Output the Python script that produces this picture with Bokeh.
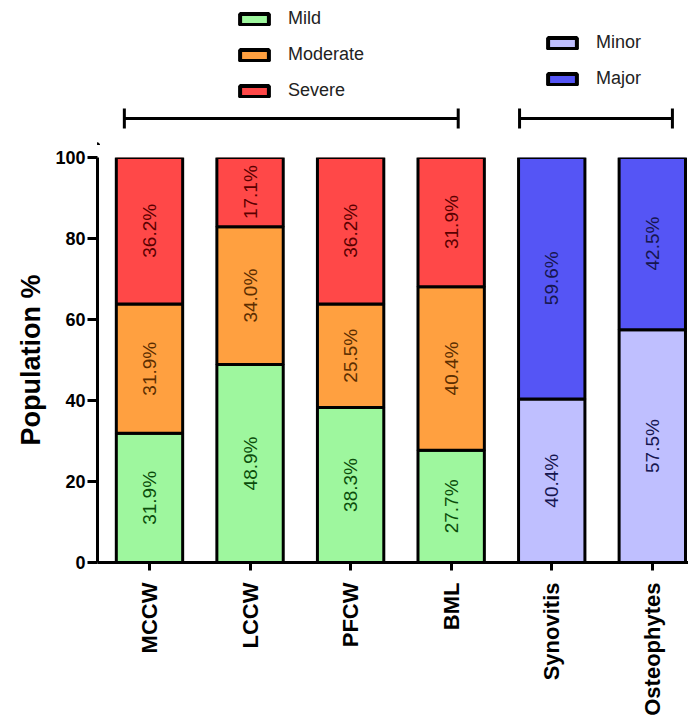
import math
from bokeh.plotting import figure
from bokeh.layouts import column
from bokeh.models import ColumnDataSource, Range1d, FixedTicker, Legend, LegendItem
from bokeh.core.properties import value
from bokeh.embed import file_html
from bokeh.resources import INLINE

# ---- data ----
categories = ["MCCW", "LCCW", "PFCW", "BML", "Synovitis", "Osteophytes"]
mild = [31.9, 48.9, 38.3, 27.7]
moderate = [31.9, 34.0, 25.5, 40.4]
severe = [36.2, 17.1, 36.2, 31.9]
minor = [40.4, 57.5]
major = [59.6, 42.5]
y_ticks = [0, 20, 40, 60, 80, 100]
# group brackets (x start, x end in category units)
brackets = [(-0.25, 3.07), (3.68, 5.2)]

# ---- styles ----
C_MILD, C_MOD, C_SEV = "#9ef79e", "#ffa040", "#ff4848"
C_MINOR, C_MAJOR = "#bfbfff", "#5555f5"
T_MILD, T_MOD, T_SEV = "#0b4d0b", "#5c2e00", "#5a0000"
T_BLUE = "#16164f"
BAR_W = 0.66

xr = Range1d(-0.517, 5.36)

# ---- header panel: legends and group brackets ----
HEAD_H = 145
top = figure(width=688, height=HEAD_H, output_backend="svg", toolbar_location=None,
             x_range=xr, y_range=Range1d(0, HEAD_H),
             min_border_left=97, min_border_right=0, min_border_top=0, min_border_bottom=0)
top.outline_line_color = None
top.grid.grid_line_color = None
top.axis.visible = False

for x0, x1 in brackets:
    top.segment(x0=[x0], y0=[27], x1=[x1], y1=[27], line_color="black", line_width=3)
    top.segment(x0=[x0, x1], y0=[17, 17], x1=[x0, x1], y1=[37, 37],
                line_color="black", line_width=3)

def swatch(color):
    # proxy glyph placed outside the visible range, used only by the legend
    return top.vbar(x=[-10], bottom=[0], top=[1], width=BAR_W, fill_color=color,
                    line_color="black", line_width=4, border_radius=4)

def make_legend(items, x, y):
    lg = Legend(items=items, location=(x, y), orientation="vertical",
                glyph_width=36, glyph_height=14, label_standoff=16, spacing=15,
                label_height=20, padding=0, margin=0,
                border_line_alpha=0, background_fill_alpha=0,
                label_text_font="Liberation Sans", label_text_font_size="18px",
                label_text_color="#222222")
    top.add_layout(lg, "center")

make_legend([LegendItem(label="Mild", renderers=[swatch(C_MILD)]),
             LegendItem(label="Moderate", renderers=[swatch(C_MOD)]),
             LegendItem(label="Severe", renderers=[swatch(C_SEV)])], 139, 44)
make_legend([LegendItem(label="Minor", renderers=[swatch(C_MINOR)]),
             LegendItem(label="Major", renderers=[swatch(C_MAJOR)])], 447, 56)

# ---- main chart ----
p = figure(width=688, height=573, output_backend="svg", toolbar_location=None,
           x_range=xr, y_range=Range1d(0, 100),
           min_border_left=97, min_border_right=0, min_border_top=12, min_border_bottom=156)
p.outline_line_color = None
p.grid.grid_line_color = None
p.background_fill_color = "white"

# cartilage-type stacked bars
xa = list(range(len(mild)))
b1 = [m + o for m, o in zip(mild, moderate)]
srcA = ColumnDataSource(dict(x=xa, mild=mild, moderate=moderate, severe=severe,
                             b1=b1, t=[100.0] * len(xa)))
p.vbar(x="x", bottom=0, top="mild", width=BAR_W, source=srcA,
       fill_color=C_MILD, line_color="black", line_width=3)
p.vbar(x="x", bottom="mild", top="b1", width=BAR_W, source=srcA,
       fill_color=C_MOD, line_color="black", line_width=3)
p.vbar(x="x", bottom="b1", top="t", width=BAR_W, source=srcA,
       fill_color=C_SEV, line_color="black", line_width=3)

# synovitis / osteophytes
xb = [len(mild) + i for i in range(len(minor))]
srcB = ColumnDataSource(dict(x=xb, minor=minor, major=major, t=[100.0] * len(xb)))
p.vbar(x="x", bottom=0, top="minor", width=BAR_W, source=srcB,
       fill_color=C_MINOR, line_color="black", line_width=3)
p.vbar(x="x", bottom="minor", top="t", width=BAR_W, source=srcB,
       fill_color=C_MAJOR, line_color="black", line_width=3)

# segment labels
def seg_labels(xs, bottoms, vals, color):
    src = ColumnDataSource(dict(x=xs, y=[b + v / 2 for b, v in zip(bottoms, vals)],
                                t=[f"{v:.1f}%" for v in vals]))
    p.text(x="x", y="y", text="t", source=src, angle=math.pi / 2,
           text_align="center", text_baseline="middle", text_color=color,
           text_font=value("Liberation Sans"), text_font_size="19px")

seg_labels(xa, [0] * len(xa), mild, T_MILD)
seg_labels(xa, mild, moderate, T_MOD)
seg_labels(xa, b1, severe, T_SEV)
seg_labels(xb, [0] * len(xb), minor, T_BLUE)
seg_labels(xb, minor, major, T_BLUE)

# axes
p.yaxis.bounds = (0, 100)
p.yaxis.ticker = FixedTicker(ticks=y_ticks)
p.yaxis.minor_tick_line_color = None
p.yaxis.major_tick_in = 0
p.yaxis.major_tick_out = 10
p.yaxis.axis_line_width = 3
p.yaxis.major_tick_line_width = 3
p.yaxis.major_label_text_font = "Liberation Sans"
p.yaxis.major_label_text_font_style = "bold"
p.yaxis.major_label_text_font_size = "18px"
p.yaxis.major_label_text_color = "black"
p.yaxis.major_label_standoff = 2
p.yaxis.axis_label = "Population %"
p.yaxis.axis_label_text_font = "Liberation Sans"
p.yaxis.axis_label_text_font_style = "bold"
p.yaxis.axis_label_text_font_size = "27px"
p.yaxis.axis_label_text_color = "black"
p.yaxis.axis_label_standoff = 6

p.xaxis.ticker = FixedTicker(ticks=list(range(len(categories))))
p.xaxis.major_label_overrides = {i: c for i, c in enumerate(categories)}
p.xaxis.major_label_orientation = math.pi / 2
p.xaxis.minor_tick_line_color = None
p.xaxis.major_tick_in = 0
p.xaxis.major_tick_out = 8
p.xaxis.axis_line_width = 3
p.xaxis.major_tick_line_width = 3
p.xaxis.major_label_text_font = "Liberation Sans"
p.xaxis.major_label_text_font_style = "bold"
p.xaxis.major_label_text_font_size = "22px"
p.xaxis.major_label_text_color = "black"
p.xaxis.major_label_standoff = 12

layout = column(top, p, spacing=0)
open("out.html", "w").write(file_html(layout, INLINE))
